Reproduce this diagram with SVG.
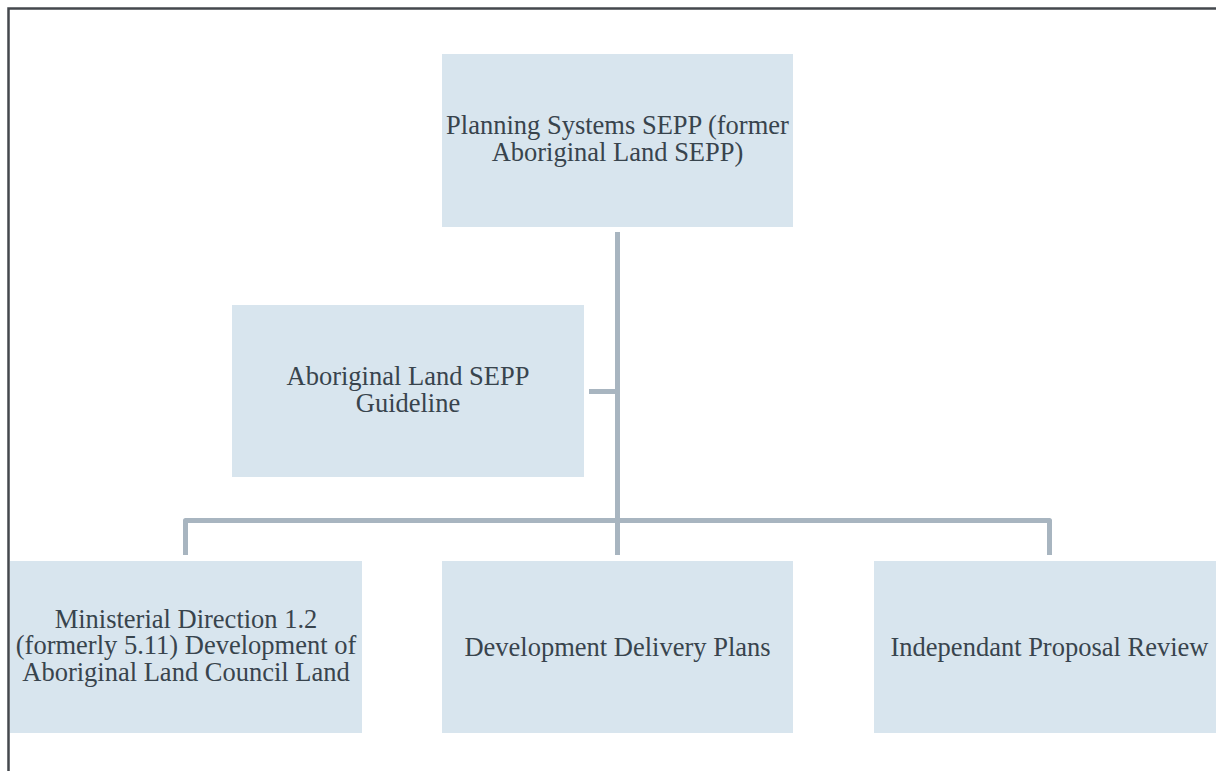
<svg xmlns="http://www.w3.org/2000/svg" width="1216" height="771" viewBox="0 0 1216 771">
<style>
.box{fill:#d8e5ee;}
.lbl{font-family:"Liberation Serif","Times New Roman",serif;font-size:26.5px;fill:#38444d;text-anchor:middle;}
.conn{fill:none;stroke:#a8b5c0;stroke-width:5;stroke-linejoin:round;}
</style>
<rect width="1216" height="771" fill="#ffffff"/>
<rect x="8.5" y="8.5" width="1300" height="900" fill="none" stroke="#44484d" stroke-width="2.5"/>
<g id="connectors">
<path class="conn" d="M617.5,232 V520.5"/>
<path class="conn" d="M589,391.5 H617.5"/>
<path class="conn" d="M185.5,555 V520.5 H1049.5 V555"/>
<path class="conn" d="M617.5,520.5 V555"/>
</g>
<g id="n-planning">
<rect class="box" x="442" y="54" width="351" height="173"/>
<text class="lbl" x="617.5" y="134">Planning Systems SEPP (former</text>
<text class="lbl" x="617.5" y="160.5">Aboriginal Land SEPP)</text>
</g>
<g id="n-guideline">
<rect class="box" x="232" y="305" width="352" height="172"/>
<text class="lbl" x="408" y="385">Aboriginal Land SEPP</text>
<text class="lbl" x="408" y="411.5">Guideline</text>
</g>
<g id="n-ministerial">
<rect class="box" x="10" y="561" width="352" height="172"/>
<text class="lbl" x="186" y="627.5">Ministerial Direction 1.2</text>
<text class="lbl" x="186" y="654">(formerly 5.11) Development of</text>
<text class="lbl" x="186" y="680.5">Aboriginal Land Council Land</text>
</g>
<g id="n-delivery">
<rect class="box" x="442" y="561" width="351" height="172"/>
<text class="lbl" x="617.5" y="656">Development Delivery Plans</text>
</g>
<g id="n-review">
<rect class="box" x="874" y="561" width="351" height="172"/>
<text class="lbl" x="1049.5" y="656">Independant Proposal Review</text>
</g>
</svg>
